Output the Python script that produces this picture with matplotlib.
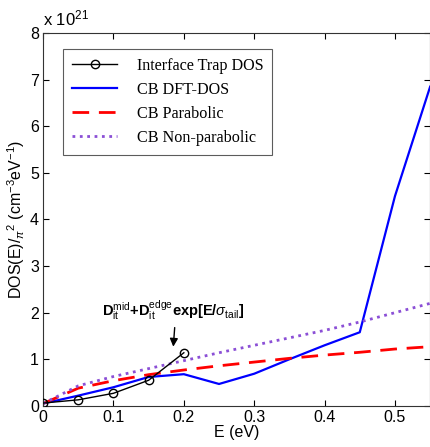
import numpy as np
import matplotlib
matplotlib.use("Agg")
import matplotlib.pyplot as plt

# energies (eV) and DOS values (x 1e21 cm^-3 eV^-1)
e_trap = [0.0, 0.05, 0.10, 0.15, 0.20]
dos_trap = [0.06, 0.13, 0.27, 0.55, 1.14]

e_dft = [0.0, 0.05, 0.10, 0.15, 0.20, 0.25, 0.30, 0.35, 0.40, 0.45, 0.50, 0.55]
dos_dft = [0.05, 0.22, 0.40, 0.62, 0.68, 0.47, 0.69, 1.00, 1.30, 1.58, 4.50, 6.85]

e_cb = [0.0, 0.05, 0.10, 0.15, 0.20, 0.25, 0.30, 0.35, 0.40, 0.45, 0.50, 0.55]
dos_parab = [0.05, 0.38, 0.54, 0.67, 0.77, 0.86, 0.94, 1.02, 1.09, 1.15, 1.22, 1.27]
dos_nonparab = [0.05, 0.43, 0.63, 0.80, 0.97, 1.14, 1.30, 1.46, 1.62, 1.80, 2.00, 2.20]

sans = "Liberation Sans"
serif = "Liberation Serif"
plt.rcParams["mathtext.fontset"] = "custom"
plt.rcParams["mathtext.rm"] = sans
plt.rcParams["mathtext.it"] = sans + ":italic"
plt.rcParams["mathtext.bf"] = sans + ":bold"

fig = plt.figure(figsize=(4.31, 4.47), dpi=100)
ax = fig.add_axes([0.100, 0.092, 0.898, 0.834])

ax.plot(e_trap, dos_trap, "-o", color="k", lw=1.0, ms=6, mfc="none", mew=1.0,
        label="Interface Trap DOS", zorder=5)
ax.plot(e_dft, dos_dft, "-", color="#0000ff", lw=1.6, label="CB DFT-DOS")
ax.plot(e_cb, dos_parab, "--", color="#ff0000", lw=2.0, dashes=(6, 3.5),
        label="CB Parabolic")
ax.plot(e_cb, dos_nonparab, ":", color="#8b4fd6", lw=2.0, label="CB Non-parabolic")

ax.set_xlim(0, 0.55)
ax.set_ylim(0, 8)
ax.set_xticks([0, 0.1, 0.2, 0.3, 0.4, 0.5])
ax.set_xticklabels(["0", "0.1", "0.2", "0.3", "0.4", "0.5"])
ax.set_yticks(range(0, 9))
ax.tick_params(direction="in", top=True, right=True, length=4, width=0.8,
               labelsize=11.5, pad=3)
for lab in ax.get_xticklabels() + ax.get_yticklabels():
    lab.set_fontfamily(sans)
for sp in ax.spines.values():
    sp.set_linewidth(0.8)
    sp.set_color("#333333")

ax.set_xlabel("E (eV)", fontsize=11.5, family=sans, labelpad=0)
ax.set_ylabel(r"DOS(E)/$_{\pi}$$^{2}$ (cm$^{-3}$eV$^{-1}$)", fontsize=11.5,
              family=sans, labelpad=2)
ax.text(0.0, 1.012, r"x 10$^{21}$", transform=ax.transAxes, fontsize=12,
        family=sans, ha="left", va="bottom")

# trap DOS model label with arrow pointing to the curve
ax.text(0.185, 2.05,
        r"$\mathbf{D}_{\mathrm{it}}^{\mathrm{mid}}\mathbf{+D}_{\mathrm{it}}^{\mathrm{edge}}"
        r"\mathbf{exp[E/}\sigma_{\mathrm{tail}}\mathbf{]}$",
        fontsize=10.5, ha="center", va="center")
ax.annotate("", xy=(0.185, 1.27), xytext=(0.187, 1.68),
            arrowprops=dict(arrowstyle="-|>", color="k", lw=1.0,
                            mutation_scale=12, shrinkA=0, shrinkB=0))

leg = ax.legend(loc="upper left", bbox_to_anchor=(0.052, 0.957),
                borderaxespad=0, prop={"family": serif, "size": 11.6},
                frameon=True, fancybox=False, edgecolor="#333333",
                handlelength=2.8, labelspacing=0.5, borderpad=0.55,
                handletextpad=1.2)
leg.get_frame().set_linewidth(0.8)

fig.savefig("out.png", dpi=100)
